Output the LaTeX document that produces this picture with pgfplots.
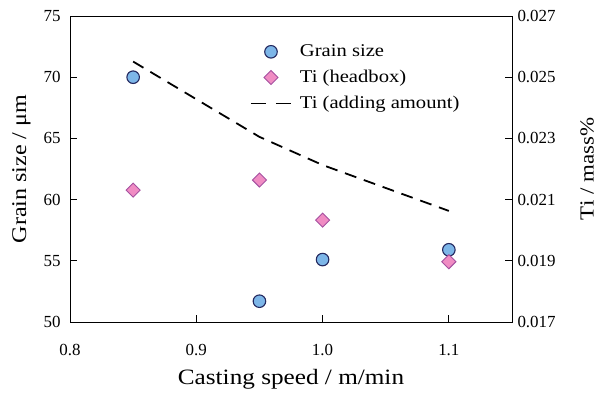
\documentclass[border=0pt]{standalone}
\usepackage{pgfplots}
\pgfplotsset{compat=1.18}
\usepackage{fontspec}
\setmainfont{Liberation Serif}
\newfontfamily\lab[FakeStretch=1.15]{Liberation Serif}
\definecolor{cfill}{RGB}{125,182,232}
\definecolor{cedge}{RGB}{35,40,95}
\definecolor{dfill}{RGB}{240,140,195}
\definecolor{dedge}{RGB}{165,80,160}
\begin{document}
\begin{tikzpicture}
\pgfplotsset{
  common/.style={
    scale only axis, width=442bp, height=306bp,
    xmin=0.8, xmax=1.15,
    tick align=inside, major tick length=7bp,
    scaled ticks=false,
    /pgf/number format/assume math mode=true,
    tick label style={font=\fontsize{17}{19}\selectfont},
    axis line style={line width=0.9pt}, every tick/.style={line width=0.9pt,black},
  }
}
\begin{axis}[common, name=ax,
  ymin=50, ymax=75, ytick={50,55,60,65,70,75},
  xtick={0.8,0.9,1.0,1.1}, xticklabels={0.8,0.9,1.0,1.1},
  xtick pos=bottom, ytick pos=left,
  xticklabel style={yshift=-19bp},
  yticklabel style={xshift=-6bp},
  xlabel={Casting speed / m/min},
  ylabel={Grain size / μm},
  xlabel style={font=\lab\fontsize{22}{25}\selectfont, yshift=-6bp},
  ylabel style={font=\lab\fontsize{21}{24}\selectfont},
  ylabel shift=6bp,
]
\addplot[only marks, mark=*, mark size=6.3pt, mark options={fill=cfill, draw=cedge, line width=1.1pt}]
  coordinates {(0.85,70.0) (0.95,51.7) (1.0,55.1) (1.1,55.9)};
\end{axis}
\begin{axis}[common,
  ymin=0.017, ymax=0.027, ytick={0.017,0.019,0.021,0.023,0.025,0.027},
  yticklabels={0.017,0.019,0.021,0.023,0.025,0.027},
  yticklabel style={xshift=2bp},
  axis x line=none, axis y line*=right,
  ylabel={Ti / mass\%},
  ylabel style={font=\lab\fontsize{20}{23}\selectfont},
  ylabel shift=18bp,
  legend style={at={(0.407,0.912)}, anchor=north west, draw=none, fill=none, inner sep=0pt,
    font=\lab\fontsize{18}{21}\selectfont, row sep=8bp, legend cell align=left,
    nodes={inner sep=2bp}},
  legend image code/.code={\draw[mark repeat=2, mark phase=2] plot coordinates {(0bp,0bp) (20bp,0bp) (40bp,0bp)};},
]
\addlegendimage{only marks, mark=*, mark size=6.3pt, mark options={fill=cfill, draw=cedge, line width=1.1pt}}
\addlegendentry{\hspace{6bp}Grain size}
\addplot[only marks, mark=square*, mark size=5pt, mark options={rotate=45, fill=dfill, draw=dedge, line width=0.9pt}]
  coordinates {(0.85,0.02131) (0.95,0.02164) (1.0,0.02033) (1.1,0.01897)};
\addlegendentry{\hspace{6bp}Ti (headbox)}
\addplot[black, line width=1.8pt, dash pattern=on 12bp off 8bp, forget plot]
  coordinates {(0.85,0.02551) (0.9,0.02428) (0.95,0.02305) (1.0,0.02213) (1.05,0.02138) (1.1,0.02063)};
\addlegendimage{black, line width=1.8pt, dash pattern=on 15bp off 10bp}
\addlegendentry{\hspace{6bp}Ti (adding amount)}
\end{axis}
\pgfresetboundingbox
\path ([shift={(-70bp,-70bp)}]ax.south west) rectangle ([shift={(86bp,16bp)}]ax.north east);
\end{tikzpicture}
\end{document}
